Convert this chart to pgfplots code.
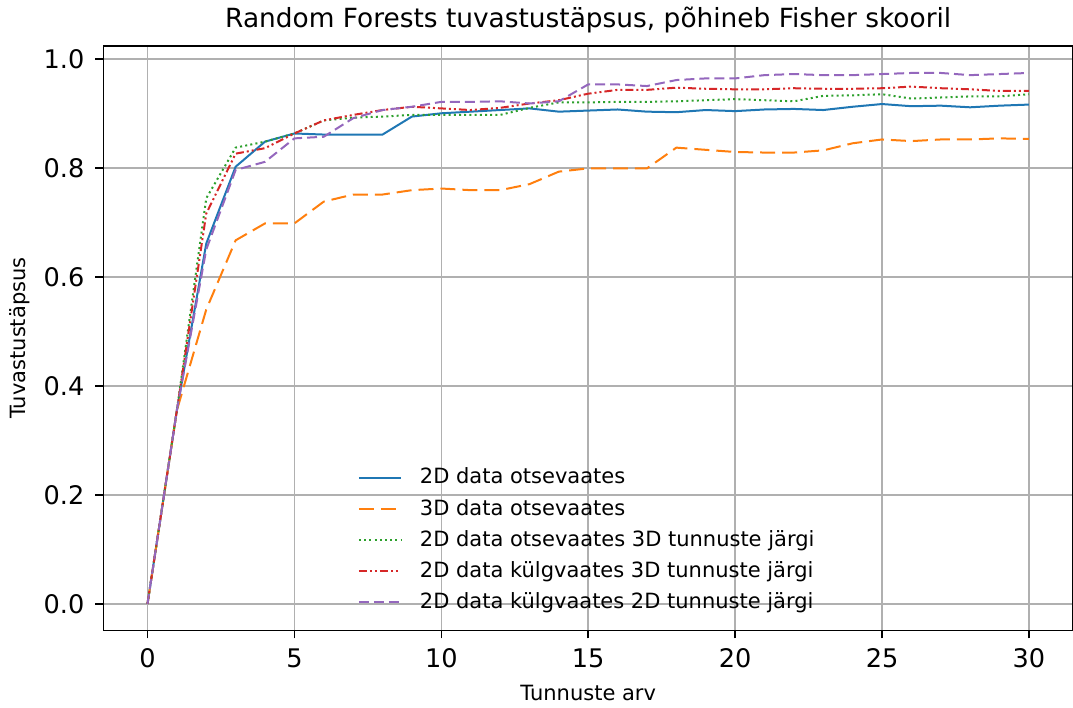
\documentclass[border=0pt]{standalone}
\usepackage{pgfplots}
\pgfplotsset{compat=1.18}
\usepackage{pgfplotstable}
\usepackage{fontspec}
\setmainfont{DejaVu Sans}
\definecolor{c1}{HTML}{1F77B4}
\definecolor{c2}{HTML}{FF7F0E}
\definecolor{c3}{HTML}{2CA02C}
\definecolor{c4}{HTML}{D62728}
\definecolor{c5}{HTML}{9467BD}
\pgfplotstableread{
x a b c d e
0 0 0 0 0 0
1 0.355 0.355 0.355 0.355 0.355
2 0.661 0.54 0.744 0.716 0.65
3 0.802 0.667 0.837 0.826 0.796
4 0.848 0.698 0.848 0.836 0.811
5 0.863 0.698 0.863 0.863 0.854
6 0.861 0.738 0.887 0.887 0.857
7 0.861 0.751 0.892 0.897 0.891
8 0.861 0.751 0.894 0.906 0.906
9 0.894 0.759 0.897 0.912 0.912
10 0.900 0.762 0.897 0.909 0.921
11 0.903 0.759 0.897 0.906 0.921
12 0.906 0.759 0.897 0.910 0.922
13 0.909 0.770 0.910 0.918 0.918
14 0.903 0.793 0.920 0.924 0.922
15 0.905 0.799 0.920 0.936 0.953
16 0.907 0.799 0.921 0.943 0.953
17 0.903 0.799 0.921 0.943 0.950
18 0.902 0.837 0.922 0.947 0.961
19 0.906 0.833 0.924 0.945 0.964
20 0.904 0.829 0.926 0.944 0.964
21 0.907 0.828 0.924 0.944 0.970
22 0.908 0.828 0.922 0.946 0.972
23 0.906 0.832 0.932 0.945 0.970
24 0.912 0.845 0.933 0.945 0.970
25 0.917 0.852 0.935 0.946 0.972
26 0.913 0.849 0.927 0.949 0.974
27 0.914 0.852 0.929 0.946 0.974
28 0.911 0.852 0.931 0.944 0.970
29 0.914 0.854 0.931 0.941 0.972
30 0.916 0.853 0.935 0.941 0.974
}\data
\begin{document}
\begin{tikzpicture}[trim axis right]
\begin{axis}[
  scale only axis,
  width=485pt, height=292.5pt,
  xmin=-1.5, xmax=31.5, ymin=-0.0487, ymax=1.024,
  xtick={0,5,...,30},
  ytick={0,0.2,0.4,0.6,0.8,1.0},
  /pgf/number format/assume math mode=true,
  tick label style={font=\fontsize{12.8}{15}\selectfont},
  yticklabel style={xshift=-2pt, /pgf/number format/.cd, fixed, fixed zerofill, precision=1},
  xticklabel style={yshift=-1.5pt},
  tick align=outside, tick pos=left,
  major tick length=4pt,
  every tick/.style={black, line width=0.8pt},
  axis line style={line width=0.9pt},
  grid=major,
  major grid style={color=black!31, line width=0.8pt},
  title={Random Forests tuvastustäpsus, põhineb Fisher skooril},
  title style={font=\fontsize{13.2}{15}\selectfont, yshift=-3pt},
  xlabel={Tunnuste arv}, ylabel={Tuvastustäpsus},
  label style={font=\fontsize{10.5}{12}\selectfont},
  xlabel style={yshift=-2pt},
  legend style={at={(0.5,0.018)}, anchor=south, draw=none, fill=none,
    font=\fontsize{10.5}{12}\selectfont, row sep=2.1pt},
  legend cell align=left,
  legend image code/.code={\draw[#1] (0pt,0pt) -- (21pt,0pt); \path (28pt,0pt);},
  every axis plot/.append style={line width=1pt},
]
\addplot[c1, solid] table[x=x,y=a] {\data};
\addlegendentry{2D data otsevaates}
\addplot[c2, dash pattern=on 7.5pt off 3.5pt] table[x=x,y=b] {\data};
\addlegendentry{3D data otsevaates}
\addplot[c3, dash pattern=on 1pt off 1.6pt] table[x=x,y=c] {\data};
\addlegendentry{2D data otsevaates 3D tunnuste järgi}
\addplot[c4, dash pattern=on 4pt off 1.5pt on 1pt off 1.5pt on 1pt off 1.5pt] table[x=x,y=d] {\data};
\addlegendentry{2D data külgvaates 3D tunnuste järgi}
\addplot[c5, dash pattern=on 5pt off 2.5pt] table[x=x,y=e] {\data};
\addlegendentry{2D data külgvaates 2D tunnuste järgi}
\end{axis}
\path (current bounding box.west) ++(-1.5pt,0);
\end{tikzpicture}
\end{document}
